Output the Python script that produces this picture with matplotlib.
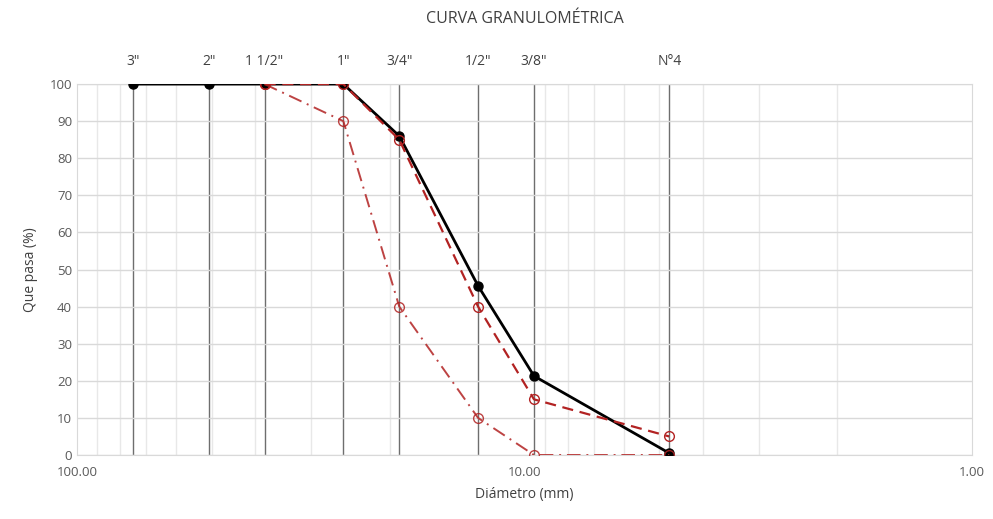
import numpy as np
import matplotlib
matplotlib.use("Agg")
import matplotlib.pyplot as plt
from matplotlib.ticker import FixedLocator, LogLocator, NullFormatter

# sieve data
tamices = ['3"', '2"', '1 1/2"', '1"', '3/4"', '1/2"', '3/8"', 'N°4']
abertura = [75.0, 50.8, 38.1, 25.4, 19.05, 12.7, 9.525, 4.75]

# muestra (black curve)
pasa = [100, 100, 100, 100, 86, 45.6, 21.3, 0.5]

# huso limits (from 1 1/2" down)
abertura_huso = [38.1, 25.4, 19.05, 12.7, 9.525, 4.75]
lim_sup = [100, 100, 85, 40, 15, 5]
lim_inf = [100, 90, 40, 10, 0, 0]

plt.rcParams['font.family'] = ['Open Sans', 'DejaVu Sans']
gris = '#595959'
rojo = '#B22222'

fig = plt.figure(figsize=(9.93, 5.19), dpi=100)
ax = fig.add_axes([0.0775, 0.1233, 0.9015, 0.7147])

ax.set_xscale('log')
ax.set_xlim(100, 1)
ax.set_ylim(0, 100)

# grid
ax.xaxis.set_major_locator(FixedLocator([100, 10, 1]))
ax.xaxis.set_minor_locator(LogLocator(base=10, subs=np.arange(2, 10)))
ax.xaxis.set_minor_formatter(NullFormatter())
ax.set_xticklabels(['100.00', '10.00', '1.00'])
ax.set_yticks(np.arange(0, 101, 10))
ax.grid(True, which='major', axis='y', color='#d9d9d9', lw=1)
ax.grid(True, which='minor', axis='x', color='#e8e8e8', lw=1)
ax.tick_params(which='both', length=0, colors=gris, labelsize=9.5)
ax.tick_params(axis='x', pad=8)
for s in ax.spines.values():
    s.set_color('#d9d9d9')

# sieve lines and labels
for d, t in zip(abertura, tamices):
    ax.axvline(d, color='#6e6e6e', lw=1, zorder=1)
    ax.text(d, 104, t, ha='center', va='bottom', color='#404040', fontsize=10)

ax.plot(abertura, pasa, color='black', lw=2, marker='o', ms=6.5, zorder=3)
ax.plot(abertura_huso, lim_inf, color=rojo, lw=1.4, ls=(0, (7, 3, 1, 3)),
        marker='o', mfc='none', mec=rojo, ms=7, zorder=4, alpha=0.85)
ax.plot(abertura_huso, lim_sup, color=rojo, lw=1.6, ls=(0, (5, 3)),
        marker='o', mfc='none', mec=rojo, ms=7, zorder=4)

ax.set_title('CURVA GRANULOMÉTRICA', color='#404040', fontsize=11.5, pad=44)
ax.set_xlabel('Diámetro (mm)', color='#404040', fontsize=10, labelpad=6)
ax.set_ylabel('Que pasa (%)', color='#404040', fontsize=10, labelpad=8)

fig.savefig('out.png', dpi=100)
